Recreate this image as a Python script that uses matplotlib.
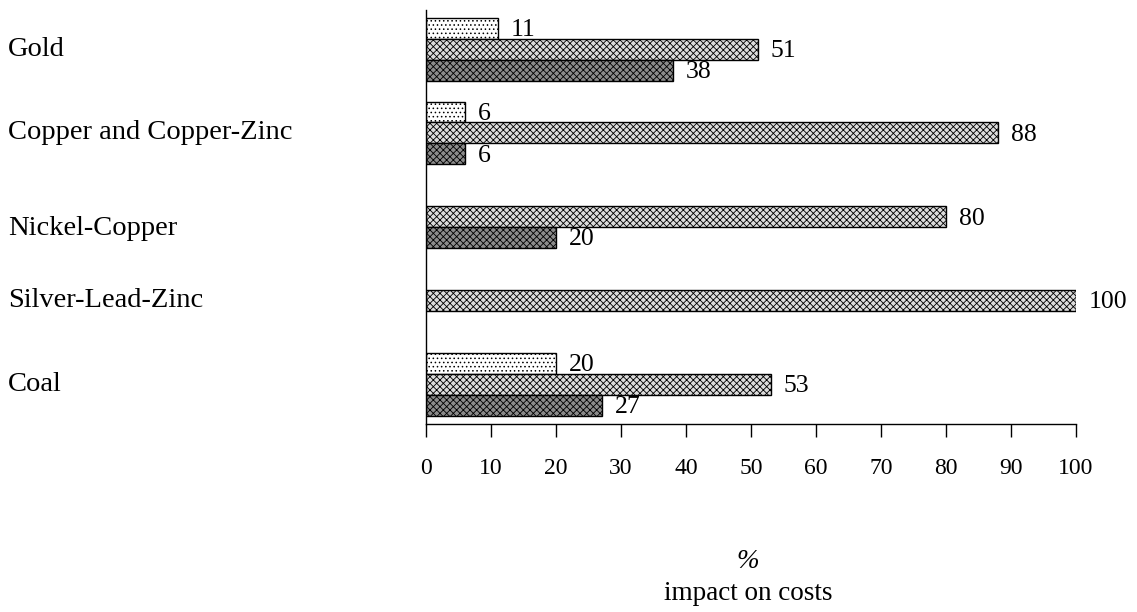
import numpy as np
import matplotlib.pyplot as plt

plt.rcParams['font.family'] = ['Liberation Serif', 'DejaVu Serif']
plt.rcParams['hatch.linewidth'] = 0.6

categories = ["Gold", "Copper and Copper-Zinc", "Nickel-Copper", "Silver-Lead-Zinc", "Coal"]
series_top = [11, 6, None, None, 20]
series_mid = [51, 88, 80, 100, 53]
series_low = [38, 6, 20, None, 27]
xticks = [0, 10, 20, 30, 40, 50, 60, 70, 80, 90, 100]

styles = [
    (series_top, -0.25, "white", "...."),
    (series_mid, 0.0, "#dcdcdc", "xxxxx"),
    (series_low, 0.25, "#8c8c8c", "xxxxx"),
]

fig = plt.figure(figsize=(11.37, 6.12), dpi=100)
ax = fig.add_axes([0.3747, 0.3072, 0.5717, 0.677])

pos = np.arange(len(categories))
for values, offset, face, hatch in styles:
    for p, v in zip(pos, values):
        if v is None:
            continue
        ax.barh(p + offset, v, height=0.25, color=face, hatch=hatch,
                edgecolor="black", linewidth=1.0)
        ax.text(v + 2.0, p + offset + 0.02, str(v), va="center", ha="left",
                fontsize=18.5)

ax.set_xlim(0, 100)
ax.set_ylim(4.47, -0.47)
ax.set_xticks(xticks)
ax.tick_params(axis="x", length=9.5, width=1.0, pad=15, labelsize=17)
ax.set_yticks([])
ax.spines["top"].set_visible(False)
ax.spines["right"].set_visible(False)
ax.spines["left"].set_linewidth(1.0)
ax.spines["bottom"].set_linewidth(1.0)

label_y = [0, 1, 2.14, 3, 4]
for name, y in zip(categories, label_y):
    ax.text(-0.643, y, name, transform=ax.get_yaxis_transform(),
            ha="left", va="center", fontsize=20.5)

fig.text(0.658, 0.0196, "impact on costs", ha="center", va="baseline", fontsize=19.5)
fig.text(0.658, 0.082, "%", ha="center", va="center", fontsize=19.5,
         style="italic")

fig.savefig("out.png", dpi=100)
